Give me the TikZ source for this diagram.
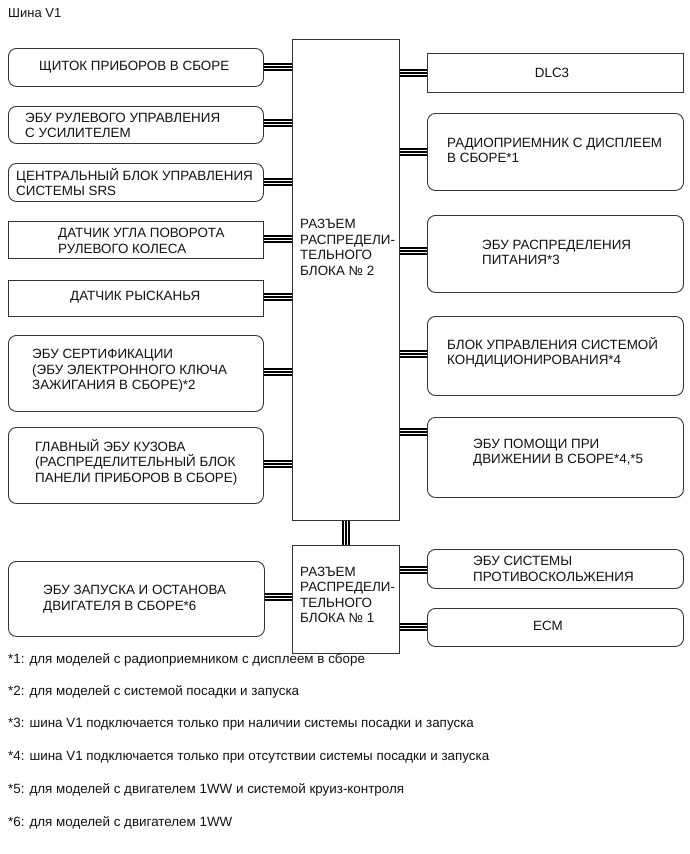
\documentclass[tikz,border=0pt]{standalone}
\usepackage{fontspec}
\setmainfont{Liberation Sans}
\definecolor{boxc}{HTML}{333333}
\definecolor{txt}{HTML}{111111}
\begin{document}
\begin{tikzpicture}[x=1pt,y=-1pt,
  box/.style={draw=boxc, line width=0.9pt, inner sep=0pt, anchor=north west},
  rbox/.style={box, rounded corners=8pt},
  lbl/.style={anchor=west, align=left, font=\fontsize{13.4}{15.5}\selectfont, text=txt, inner sep=0pt},
  note/.style={anchor=west, font=\fontsize{13.4}{15}\selectfont, text=txt, inner sep=0pt},
  bus/.style={line width=7.8pt, draw=black,
    postaction={draw=white, line width=1.2pt, double=black, double distance=1.8pt}}]
\useasboundingbox (0,0) rectangle (689,854);

\node[note, font=\fontsize{13}{15}\selectfont] (title) at (8,13) {Шина V1};

% left boxes
\node[rbox, minimum width=255pt, minimum height=38pt] (l1) at (8,48) {};
\node[rbox, minimum width=255pt, minimum height=37pt] (l2) at (8,106) {};
\node[rbox, minimum width=255pt, minimum height=38pt] (l3) at (8,163) {};
\node[box,  minimum width=255pt, minimum height=37pt] (l4) at (8,221) {};
\node[box,  minimum width=255pt, minimum height=36pt] (l5) at (8,280) {};
\node[rbox, minimum width=255pt, minimum height=76pt] (l6) at (8,335) {};
\node[rbox, minimum width=255pt, minimum height=76pt] (l7) at (8,427) {};
\node[rbox, minimum width=256pt, minimum height=75pt] (l8) at (8,561) {};

% centre blocks
\node[box, minimum width=107pt, minimum height=481pt] (c2) at (292,39) {};
\node[box, minimum width=107pt, minimum height=108pt] (c1) at (292,545) {};

% right boxes
\node[box,  minimum width=256pt, minimum height=39pt] (r1) at (427,53) {};
\node[rbox, minimum width=256pt, minimum height=77pt] (r2) at (427,113) {};
\node[rbox, minimum width=256pt, minimum height=77pt] (r3) at (427,215) {};
\node[rbox, minimum width=256pt, minimum height=79pt] (r4) at (427,316) {};
\node[rbox, minimum width=256pt, minimum height=80pt] (r5) at (427,417) {};
\node[rbox, minimum width=256pt, minimum height=39pt] (r6) at (427,549) {};
\node[rbox, minimum width=256pt, minimum height=38pt] (r7) at (427,608) {};

% labels
\node[lbl] (t1) at (39,67) {ЩИТОК ПРИБОРОВ В СБОРЕ};
\node[lbl] (t2) at (25,125.5) {ЭБУ РУЛЕВОГО УПРАВЛЕНИЯ\\С УСИЛИТЕЛЕМ};
\node[lbl] (t3) at (16,182) {ЦЕНТРАЛЬНЫЙ БЛОК УПРАВЛЕНИЯ\\СИСТЕМЫ SRS};
\node[lbl] (t4) at (58,241) {ДАТЧИК УГЛА ПОВОРОТА\\РУЛЕВОГО КОЛЕСА};
\node[lbl] (t5) at (70,297) {ДАТЧИК РЫСКАНЬЯ};
\node[lbl] (t6) at (32,371) {ЭБУ СЕРТИФИКАЦИИ\\(ЭБУ ЭЛЕКТРОННОГО КЛЮЧА\\ЗАЖИГАНИЯ В СБОРЕ)*2};
\node[lbl] (t7) at (35,462) {ГЛАВНЫЙ ЭБУ КУЗОВА\\(РАСПРЕДЕЛИТЕЛЬНЫЙ БЛОК\\ПАНЕЛИ ПРИБОРОВ В СБОРЕ)};
\node[lbl] (t8) at (43,599) {ЭБУ ЗАПУСКА И ОСТАНОВА\\ДВИГАТЕЛЯ В СБОРЕ*6};
\node[lbl] (tc2) at (300,247.5) {РАЗЪЕМ\\РАСПРЕДЕЛИ-\\ТЕЛЬНОГО\\БЛОКА № 2};
\node[lbl] (tc1) at (300,595) {РАЗЪЕМ\\РАСПРЕДЕЛИ-\\ТЕЛЬНОГО\\БЛОКА № 1};
\node[lbl, anchor=center] (u1) at (552,73) {DLC3};
\node[lbl] (u2) at (447,150.5) {РАДИОПРИЕМНИК С ДИСПЛЕЕМ\\В СБОРЕ*1};
\node[lbl] (u3) at (482,252.5) {ЭБУ РАСПРЕДЕЛЕНИЯ\\ПИТАНИЯ*3};
\node[lbl] (u4) at (447,352.5) {БЛОК УПРАВЛЕНИЯ СИСТЕМОЙ\\КОНДИЦИОНИРОВАНИЯ*4};
\node[lbl] (u5) at (473,452.5) {ЭБУ ПОМОЩИ ПРИ\\ДВИЖЕНИИ В СБОРЕ*4,*5};
\node[lbl] (u6) at (473,569) {ЭБУ СИСТЕМЫ\\ПРОТИВОСКОЛЬЖЕНИЯ};
\node[lbl, anchor=center] (u7) at (548,626) {ECM};

% connector heights
\coordinate (yl1) at (0,67);
\coordinate (yl2) at (0,123);
\coordinate (yl3) at (0,182);
\coordinate (yl4) at (0,239);
\coordinate (yl5) at (0,297);
\coordinate (yl6) at (0,372);
\coordinate (yl7) at (0,464);
\coordinate (yl8) at (0,597);
\coordinate (yr1) at (0,73);
\coordinate (yr2) at (0,152);
\coordinate (yr3) at (0,251);
\coordinate (yr4) at (0,354);
\coordinate (yr5) at (0,432);
\coordinate (yr6) at (0,570);
\coordinate (yr7) at (0,627);

% connectors
\foreach \i in {1,...,7} {
  \draw[bus] (l\i.east |- yl\i) -- (c2.west |- yl\i);
}
\draw[bus] (l8.east |- yl8) -- (c1.west |- yl8);
\foreach \i in {1,...,5} {
  \draw[bus] (c2.east |- yr\i) -- (r\i.west |- yr\i);
}
\draw[bus] (c1.east |- yr6) -- (r6.west |- yr6);
\draw[bus] (c1.east |- yr7) -- (r7.west |- yr7);
\draw[bus] (c2.south) -- (c1.north);

% footnotes
\node[note] (n1) at (8,660) {*1: для моделей с радиоприемником с дисплеем в сборе};
\node[note] (n2) at (8,692) {*2: для моделей с системой посадки и запуска};
\node[note] (n3) at (8,724) {*3: шина V1 подключается только при наличии системы посадки и запуска};
\node[note] (n4) at (8,757) {*4: шина V1 подключается только при отсутствии системы посадки и запуска};
\node[note] (n5) at (8,790) {*5: для моделей с двигателем 1WW и системой круиз-контроля};
\node[note] (n6) at (8,823) {*6: для моделей с двигателем 1WW};
\end{tikzpicture}
\end{document}
